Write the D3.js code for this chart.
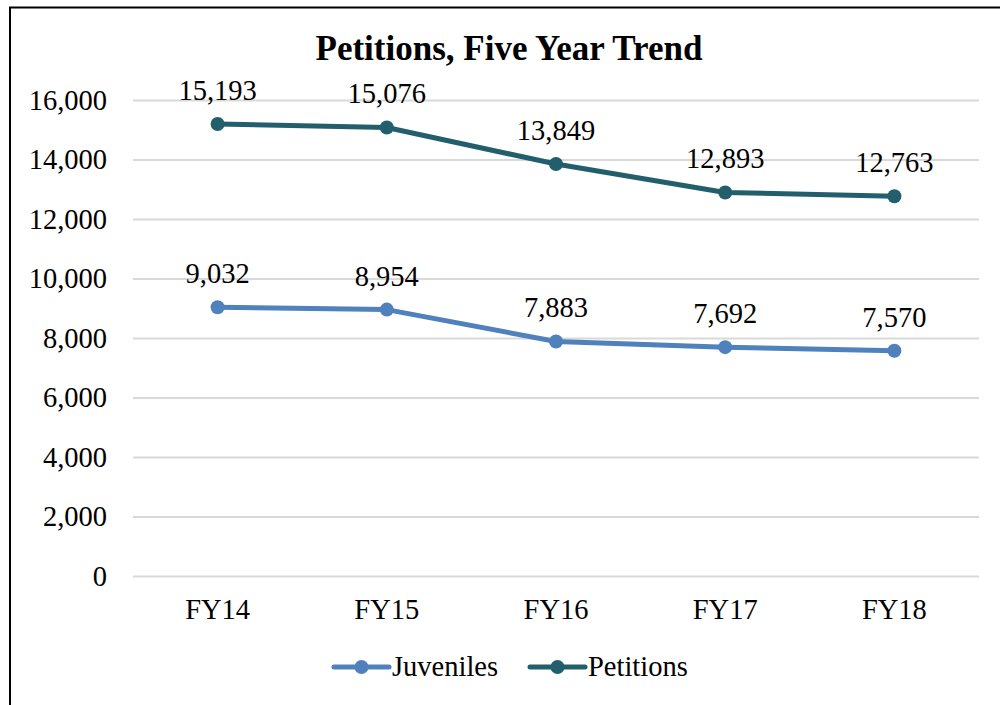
<!DOCTYPE html>
<html>
<head>
<meta charset="utf-8">
<script src="https://cdn.jsdelivr.net/npm/d3@7"></script>
<style>
  html, body { margin: 0; padding: 0; background: #fff; }
  svg { display: block; }
  svg text { font-family: "Liberation Serif", "Times New Roman", serif !important; fill: #000; }
</style>
</head>
<body>
<svg id="chart" width="1000" height="705"></svg>
<script>
// Fiscal years and counts per series
const years = ["FY14", "FY15", "FY16", "FY17", "FY18"];
const juveniles = [9032, 8954, 7883, 7692, 7570];
const petitions = [15193, 15076, 13849, 12893, 12763];
const yTicks = [0, 2000, 4000, 6000, 8000, 10000, 12000, 14000, 16000];

const series = [
  { name: "Juveniles", values: juveniles, color: "#4F81BD" },
  { name: "Petitions", values: petitions, color: "#235E6C" }
];

const svg = d3.select("#chart");
const W = 1000, H = 705;
const plot = { left: 133, right: 979, top: 100, bottom: 576 };
const FS = 28.5;

// Outer frame (extends past the right/bottom edge of the canvas)
svg.append("rect")
  .attr("x", 10).attr("y", 7.5)
  .attr("width", W + 20).attr("height", H + 20)
  .attr("fill", "#fff").attr("stroke", "#000").attr("stroke-width", 2);

const x = d3.scaleBand().domain(years).range([plot.left, plot.right]);
const y = d3.scaleLinear().domain([0, 16000]).range([plot.bottom, plot.top]);

// Title
svg.append("text")
  .attr("x", 509).attr("y", 60)
  .attr("text-anchor", "middle")
  .attr("font-size", 35).attr("font-weight", "bold")
  .text("Petitions, Five Year Trend");

// Gridlines + y labels via axis
const yAxis = d3.axisLeft(y)
  .tickValues(yTicks)
  .tickFormat(d3.format(","))
  .tickSize(-(plot.right - plot.left))
  .tickPadding(26);
const gy = svg.append("g")
  .attr("transform", `translate(${plot.left},0)`)
  .call(yAxis);
gy.select(".domain").remove();
gy.selectAll(".tick line").attr("stroke", "#d9d9d9").attr("stroke-width", 2);
gy.selectAll(".tick text")
  .attr("font-size", FS)
  .attr("fill", "#000");

// X category labels
const xAxis = d3.axisBottom(x).tickSize(0).tickPadding(23);
const gx = svg.append("g")
  .attr("transform", `translate(0,${plot.bottom})`)
  .call(xAxis);
gx.select(".domain").remove();
gx.selectAll(".tick text")
  .attr("font-size", FS)
  .attr("fill", "#000");

const cx = d => x(d) + x.bandwidth() / 2;
const line = d3.line()
  .x((v, i) => cx(years[i]))
  .y(v => y(v));

series.forEach(s => {
  const g = svg.append("g");
  g.append("path")
    .datum(s.values)
    .attr("d", line)
    .attr("fill", "none")
    .attr("stroke", s.color)
    .attr("stroke-width", 5)
    .attr("stroke-linejoin", "round");
  g.selectAll("circle")
    .data(s.values)
    .join("circle")
    .attr("cx", (v, i) => cx(years[i]))
    .attr("cy", v => y(v))
    .attr("r", 7)
    .attr("fill", s.color);
  g.selectAll("text.val")
    .data(s.values)
    .join("text")
    .attr("class", "val")
    .attr("x", (v, i) => cx(years[i]))
    .attr("y", v => y(v) - 24)
    .attr("text-anchor", "middle")
    .attr("font-size", FS)
    .text(d3.format(","));
});

// Legend
const legendItems = [
  { s: series[0], x0: 334 },
  { s: series[1], x0: 530 }
];
const ly = 667;
legendItems.forEach(({ s, x0 }) => {
  const g = svg.append("g");
  g.append("line")
    .attr("x1", x0).attr("x2", x0 + 55)
    .attr("y1", ly).attr("y2", ly)
    .attr("stroke", s.color).attr("stroke-width", 5)
    .attr("stroke-linecap", "round");
  g.append("circle")
    .attr("cx", x0 + 27.5).attr("cy", ly).attr("r", 7)
    .attr("fill", s.color);
  g.append("text")
    .attr("x", x0 + 58).attr("y", ly + 9)
    .attr("font-size", FS)
    .text(s.name);
});
</script>
</body>
</html>
